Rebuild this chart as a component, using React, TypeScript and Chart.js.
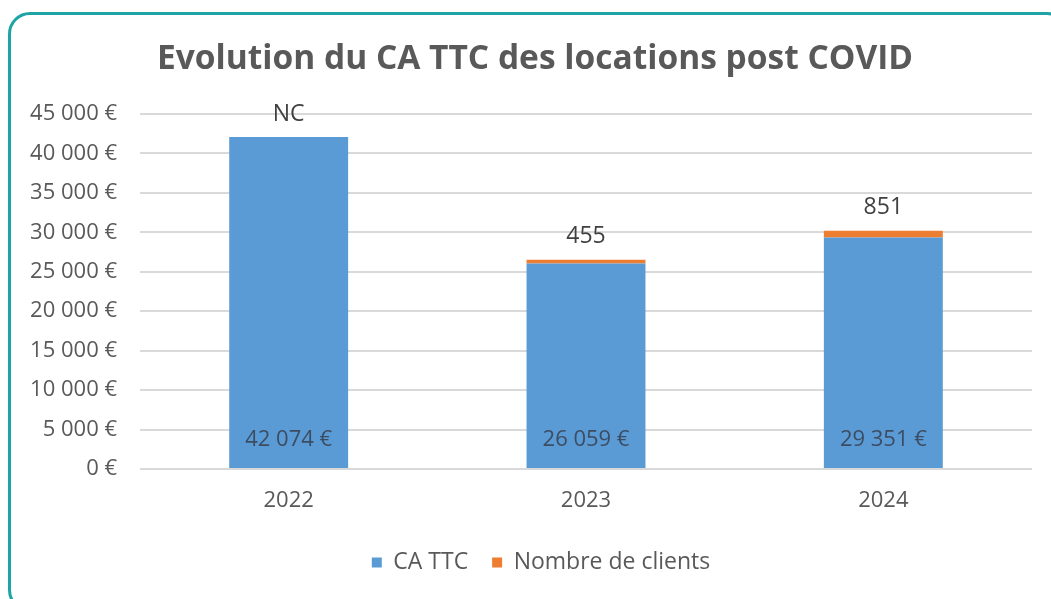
import React, { useEffect, useRef } from "react";
import { Chart, registerables } from "chart.js";

Chart.register(...registerables);

const chartTitle = "Evolution du CA TTC des locations post COVID";
const categories = ["2022", "2023", "2024"];
const caTTC = [42074, 26059, 29351];
const nombreClients = [0, 455, 851];
const clientLabels = ["NC", "455", "851"];
const yTickLabels = ["0 €", "5 000 €", "10 000 €", "15 000 €", "20 000 €", "25 000 €", "30 000 €", "35 000 €", "40 000 €", "45 000 €"];
const caLabels = ["42 074 €", "26 059 €", "29 351 €"];

const FONT = "'Open Sans', sans-serif";

const labelPlugin = {
  id: "barLabels",
  afterDatasetsDraw(chart: any) {
    const ctx = chart.ctx;
    ctx.save();
    ctx.textAlign = "center";
    ctx.textBaseline = "middle";
    const m0 = chart.getDatasetMeta(0);
    const m1 = chart.getDatasetMeta(1);
    ctx.font = `22px ${FONT}`;
    ctx.fillStyle = "#3c4d63";
    m0.data.forEach((bar: any, i: number) => {
      ctx.fillText(caLabels[i], bar.x, bar.base - 28);
    });
    ctx.fillStyle = "#404040";
    ctx.font = `23px ${FONT}`;
    m1.data.forEach((bar: any, i: number) => {
      ctx.fillText(clientLabels[i], bar.x, bar.y - 23);
    });
    ctx.restore();
  },
};

const titlePlugin = {
  id: "customTitle",
  afterDraw(chart: any) {
    const ctx = chart.ctx;
    ctx.save();
    ctx.textAlign = "center";
    ctx.textBaseline = "middle";
    ctx.fillStyle = "#595959";
    ctx.font = `bold 33.5px ${FONT}`;
    ctx.fillText(chartTitle, 535, 59);
    ctx.restore();
  },
};

export default function App() {
  const ref = useRef<HTMLCanvasElement>(null);
  useEffect(() => {
    if (!ref.current) return;
    const chart = new Chart(ref.current, {
      type: "bar",
      data: {
        labels: categories,
        datasets: [
          { label: "CA TTC", data: caTTC, backgroundColor: "#5b9bd5", categoryPercentage: 0.4, barPercentage: 1 },
          { label: "Nombre de clients", data: nombreClients, backgroundColor: "#ed7d31", categoryPercentage: 0.4, barPercentage: 1 },
        ],
      },
      options: {
        responsive: false,
        animation: false,
        layout: { padding: { left: 0, right: -31, top: 114, bottom: 15 } },
        plugins: {
          title: { display: false },
          legend: {
            position: "bottom",
            labels: {
              color: "#595959",
              font: { family: FONT, size: 23 },
              boxWidth: 10,
              boxHeight: 10,
              padding: 24,
            },
          },
          tooltip: { enabled: false },
        },
        scales: {
          x: {
            stacked: true,
            grid: { display: false, drawTicks: false },
            border: { display: false },
            ticks: { color: "#595959", font: { family: FONT, size: 22 }, padding: 19 },
            afterFit: (s: any) => { s.height = 58; },
          },
          y: {
            stacked: true,
            min: 0,
            max: 45000,
            grid: { color: "#d9d9d9", lineWidth: 2, drawTicks: false },
            border: { display: false },
            ticks: {
              stepSize: 5000,
              color: "#595959",
              font: { family: FONT, size: 22 },
              padding: 23,
              callback: (_v: any, i: number) => yTickLabels[i],
            },
            afterFit: (s: any) => { s.width = 140; },
          },
          yRight: {
            type: "linear",
            position: "right",
            display: true,
            grid: { display: false, drawTicks: false },
            border: { display: false },
            ticks: { display: false },
            afterFit: (s: any) => { s.width = 50; },
          },
        },
      },
      plugins: [labelPlugin, titlePlugin],
    });
    return () => chart.destroy();
  }, []);
  return (
    <div style={{ position: "fixed", left: 0, top: 0, width: 1051, height: 599, background: "#fff", overflow: "hidden" }}>
      <div style={{ position: "absolute", left: 8, top: 12, width: 1061, height: 600, border: "3px solid #1fa3a7", borderRadius: 22, boxSizing: "border-box" }} />
      <canvas ref={ref} width={1051} height={599} style={{ position: "absolute", left: 0, top: 0 }} />
    </div>
  );
}
